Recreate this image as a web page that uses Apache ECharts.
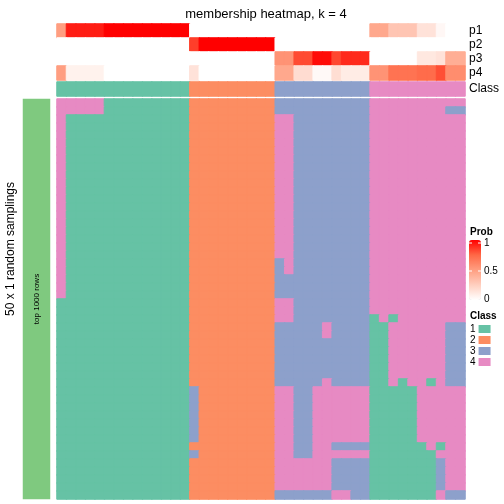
<!DOCTYPE html>
<html><head><meta charset="utf-8">
<script src="https://cdn.jsdelivr.net/npm/echarts@6/dist/echarts.min.js"></script>
<style>html,body{margin:0;padding:0;background:#fff}#c{width:504px;height:504px}</style>
</head><body><div id="c"></div>
<script>
const chartTitle = 'membership heatmap, k = 4';
const probNames = ['p1', 'p2', 'p3', 'p4'];
// per-column membership probabilities (43 columns: 14 class1, 9 class2, 10 class3, 10 class4)
const p1 = [0.5, 0.93, 0.93, 0.93, 0.93, 1, 1, 1, 1, 1, 1, 1, 1, 1,
  0, 0, 0, 0, 0, 0, 0, 0, 0,
  0, 0, 0, 0, 0, 0, 0, 0, 0, 0,
  0.45, 0.45, 0.3, 0.3, 0.3, 0.15, 0.15, 0.04, 0, 0];
const p2 = [0, 0, 0, 0, 0, 0, 0, 0, 0, 0, 0, 0, 0, 0,
  0.85, 1, 1, 1, 1, 1, 1, 1, 1,
  0, 0, 0, 0, 0, 0, 0, 0, 0, 0,
  0, 0, 0, 0, 0, 0, 0, 0, 0, 0];
const p3 = [0, 0, 0, 0, 0, 0, 0, 0, 0, 0, 0, 0, 0, 0,
  0, 0, 0, 0, 0, 0, 0, 0, 0,
  0.55, 0.55, 0.82, 0.82, 0.97, 0.97, 0.83, 0.9, 0.9, 0.9,
  0, 0, 0, 0, 0, 0.12, 0.12, 0.15, 0.42, 0.42];
const p4 = [0.5, 0.07, 0.07, 0.07, 0.07, 0, 0, 0, 0, 0, 0, 0, 0, 0,
  0.15, 0, 0, 0, 0, 0, 0, 0, 0,
  0.45, 0.45, 0.18, 0.18, 0.03, 0.03, 0.17, 0.1, 0.1, 0.1,
  0.55, 0.55, 0.7, 0.7, 0.7, 0.73, 0.73, 0.81, 0.58, 0.58];
const columnClass = [1, 1, 1, 1, 1, 1, 1, 1, 1, 1, 1, 1, 1, 1,
  2, 2, 2, 2, 2, 2, 2, 2, 2,
  3, 3, 3, 3, 3, 3, 3, 3, 3, 3,
  4, 4, 4, 4, 4, 4, 4, 4, 4, 4];
// 50 random samplings (rows) x 43 columns, class of each cell
const samplingRows = [
  '44444111111111|222222222|3333333333|4444444444',
  '44444111111111|222222222|3333333333|4444444433',
  '41111111111111|222222222|4433333333|4444444444',
  '41111111111111|222222222|4433333333|4444444444',
  '41111111111111|222222222|4433333333|4444444444',
  '41111111111111|222222222|4433333333|4444444444',
  '41111111111111|222222222|4433333333|4444444444',
  '41111111111111|222222222|4433333333|4444444444',
  '41111111111111|222222222|4433333333|4444444444',
  '41111111111111|222222222|4433333333|4444444444',
  '41111111111111|222222222|4433333333|4444444444',
  '41111111111111|222222222|4433333333|4444444444',
  '41111111111111|222222222|4433333333|4444444444',
  '41111111111111|222222222|4433333333|4444444444',
  '41111111111111|222222222|4433333333|4444444444',
  '41111111111111|222222222|4433333333|4444444444',
  '41111111111111|222222222|4433333333|4444444444',
  '41111111111111|222222222|4433333333|4444444444',
  '41111111111111|222222222|4433333333|4444444444',
  '41111111111111|222222222|4433333333|4444444444',
  '41111111111111|222222222|3433333333|4444444444',
  '41111111111111|222222222|3433333333|4444444444',
  '41111111111111|222222222|3333333333|4444444444',
  '41111111111111|222222222|3333333333|4444444444',
  '41111111111111|222222222|3333333333|4444444444',
  '11111111111111|222222222|4433333333|4444444444',
  '11111111111111|222222222|4433333333|4444444444',
  '11111111111111|222222222|4433333333|1414444444',
  '11111111111111|222222222|3333343333|1144444433',
  '11111111111111|222222222|3333343333|1144444433',
  '11111111111111|222222222|3333333333|1144444433',
  '11111111111111|222222222|3333333333|1144444433',
  '11111111111111|222222222|3333333333|1144444433',
  '11111111111111|222222222|3333333333|1144444433',
  '11111111111111|222222222|3333333333|1144444433',
  '11111111111111|222222222|3333343333|1141441433',
  '11111111111111|322222222|4433444444|1111144444',
  '11111111111111|322222222|4433444444|1111144444',
  '11111111111111|322222222|4433444444|1111144444',
  '11111111111111|322222222|4433444444|1111144444',
  '11111111111111|322222222|4433444444|1111144444',
  '11111111111111|322222222|4433444444|1111144444',
  '11111111111111|322222222|4433444444|1111144444',
  '11111111111111|222222222|4433443333|1111114144',
  '11111111111111|322222222|4433444444|1111111444',
  '11111111111111|222222222|4444443333|1111111344',
  '11111111111111|222222222|4444443333|1111111344',
  '11111111111111|222222222|4444443333|1111111344',
  '11111111111111|222222222|4444443333|1111111344',
  '11111111111111|222222222|3333334433|1111111433'
];
const classLabels = ['1', '2', '3', '4'];
const classColors = ['#66C2A5', '#FC8D62', '#8DA0CB', '#E78AC3'];
const probColors = ['#FFFFFF', '#FFCFBF', '#FF9E81', '#FF6846', '#FF0000'];
const probTicks = ['1', '0.5', '0'];
const sideLabel = 'top 1000 rows';
const leftLabel = '50 x 1 random samplings';

const FONT = '"Liberation Sans", Arial, Helvetica, sans-serif';
const colCats = columnClass.map((_, i) => 'c' + (i + 1));
const rowCats = samplingRows.map((_, i) => 'r' + (i + 1));

// cells with their own fill + same-colour border so that adjacent cells leave no seams
const cell = (c, r, v, color) => ({ value: [c, r, v], itemStyle: { color: color, borderColor: color, borderWidth: 1 } });
const probData = [];
[p1, p2, p3, p4].forEach((arr, r) => arr.forEach((v, c) => probData.push(cell(c, r, v, echarts.color.lerp(v, probColors)))));
const classData = columnClass.map((v, c) => cell(c, 0, v, classColors[v - 1]));
const bodyData = [];
samplingRows.forEach((s, r) => s.replace(/\|/g, '').split('').forEach((ch, c) => bodyData.push(cell(c, r, +ch, classColors[+ch - 1]))));

const L = 57, W = 408;
const hiddenX = (data, gi) => ({ type: 'category', gridIndex: gi, data: data, show: false });
const chart = echarts.init(document.getElementById('c'), null, { renderer: 'canvas' });
const labelAxis = (data, gi) => ({
  type: 'category', gridIndex: gi, data: data, inverse: true, position: 'right',
  axisLine: { show: false }, axisTick: { show: false }, splitLine: { show: false },
  axisLabel: { show: true, interval: 0, margin: 4, fontSize: 12, color: '#000', fontFamily: FONT }
});
const hm = (xi, data, extra) => Object.assign({
  type: 'heatmap', xAxisIndex: xi, yAxisIndex: xi, data: data, progressive: 0,
  emphasis: { disabled: true }, silent: true, animation: false
}, extra || {});

chart.setOption({
  animation: false,
  backgroundColor: '#fff',
  title: {
    text: chartTitle, left: 261, top: 3, textAlign: 'center',
    textStyle: { fontSize: 13, fontWeight: 'normal', color: '#000', fontFamily: FONT }
  },
  grid: [
    { left: L, top: 24, width: W, height: 56 },
    { left: L, top: 82, width: W, height: 14 },
    { left: L, top: 99, width: W, height: 400 },
    { left: 23, top: 99, width: 27, height: 400 }
  ],
  xAxis: [hiddenX(colCats, 0), hiddenX(colCats, 1), hiddenX(colCats, 2), hiddenX(['s'], 3)],
  yAxis: [
    labelAxis(probNames, 0),
    labelAxis(['Class'], 1),
    { type: 'category', gridIndex: 2, data: rowCats, inverse: true, show: false },
    { type: 'category', gridIndex: 3, data: ['s'], show: false }
  ],
  visualMap: [
    {
      type: 'continuous', seriesIndex: 4, min: 0, max: 1, calculable: false,
      inRange: { color: probColors },
      orient: 'vertical', left: 469, top: 240, itemWidth: 12, itemHeight: 60, padding: 0,
      textStyle: { fontSize: 10, color: '#000', fontFamily: FONT }
    },
    {
      type: 'piecewise', seriesIndex: 5, orient: 'vertical', inverse: true,
      pieces: classLabels.map((lab, i) => ({ value: i + 1, label: lab, color: classColors[i] })),
      left: 470, top: 324, itemWidth: 12, itemHeight: 8, itemGap: 1, textGap: 3,
      itemSymbol: 'rect', padding: 0, selectedMode: false,
      textStyle: { fontSize: 10, color: '#000', fontFamily: FONT }
    }
  ],
  series: [
    hm(0, probData),
    hm(1, classData),
    hm(2, bodyData),
    hm(3, [{ value: [0, 0, 1], itemStyle: { color: '#7FC97F' } }]),
    hm(0, []),
    hm(1, [])
  ],
  graphic: [
    { type: 'text', z: 100, x: 11, y: 249, rotation: Math.PI / 2,
      style: { text: leftLabel, fontSize: 12, fontFamily: FONT, fill: '#000', align: 'center', verticalAlign: 'middle' } },
    { type: 'text', z: 100, x: 37, y: 299, rotation: Math.PI / 2,
      style: { text: sideLabel, fontSize: 8, fontFamily: FONT, fill: '#000', align: 'center', verticalAlign: 'middle' } },
    { type: 'text', z: 100, x: 470, y: 232,
      style: { text: 'Prob', fontSize: 10, fontWeight: 'bold', fontFamily: FONT, fill: '#000', align: 'left', verticalAlign: 'middle' } },
    { type: 'text', z: 100, x: 470, y: 316,
      style: { text: 'Class', fontSize: 10, fontWeight: 'bold', fontFamily: FONT, fill: '#000', align: 'left', verticalAlign: 'middle' } },
    { type: 'text', z: 100, x: 484, y: 243, style: { text: probTicks[0], fontSize: 10, fontFamily: FONT, fill: '#000', verticalAlign: 'middle' } },
    { type: 'text', z: 100, x: 484, y: 271, style: { text: probTicks[1], fontSize: 10, fontFamily: FONT, fill: '#000', verticalAlign: 'middle' } },
    { type: 'text', z: 100, x: 484, y: 299, style: { text: probTicks[2], fontSize: 10, fontFamily: FONT, fill: '#000', verticalAlign: 'middle' } },
    { type: 'line', z: 100, shape: { x1: 469, y1: 243, x2: 472, y2: 243 }, style: { stroke: '#fff', lineWidth: 1 } },
    { type: 'line', z: 100, shape: { x1: 478, y1: 243, x2: 481, y2: 243 }, style: { stroke: '#fff', lineWidth: 1 } },
    { type: 'line', z: 100, shape: { x1: 469, y1: 271, x2: 472, y2: 271 }, style: { stroke: '#fff', lineWidth: 1 } },
    { type: 'line', z: 100, shape: { x1: 478, y1: 271, x2: 481, y2: 271 }, style: { stroke: '#fff', lineWidth: 1 } }
  ]
});
</script></body></html>
